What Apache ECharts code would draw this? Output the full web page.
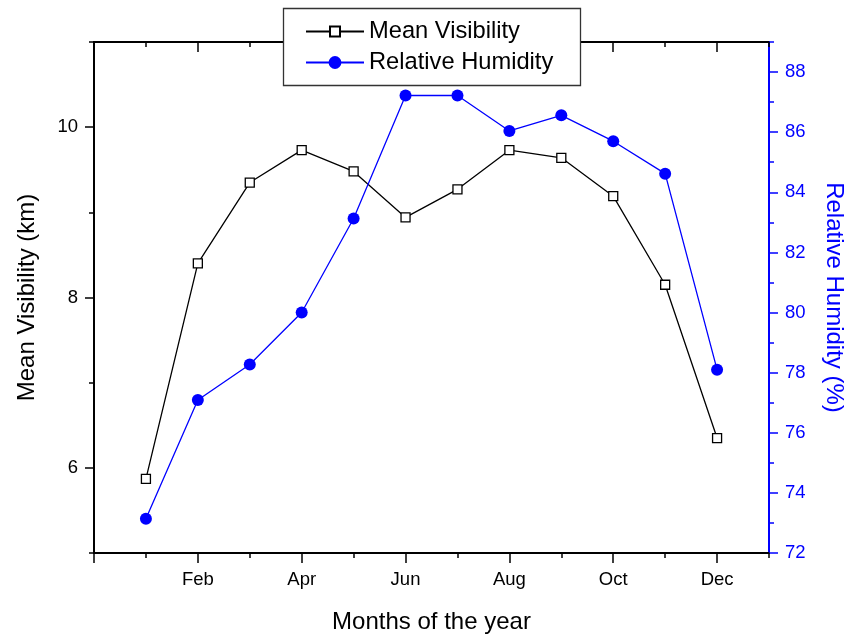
<!DOCTYPE html>
<html>
<head>
<meta charset="utf-8">
<script src="https://cdn.jsdelivr.net/npm/echarts@6/dist/echarts.min.js"></script>
<style>
  html, body { margin: 0; padding: 0; background: #fff; }
  #chart { width: 849px; height: 637px; }
</style>
</head>
<body>
<div id="chart"></div>
<script>
const monthNames = ['Jan', 'Feb', 'Mar', 'Apr', 'May', 'Jun', 'Jul', 'Aug', 'Sep', 'Oct', 'Nov', 'Dec'];
const visibility = [5.87, 8.40, 9.35, 9.73, 9.48, 8.94, 9.27, 9.73, 9.64, 9.19, 8.15, 6.35];
const humidity = [73.14, 77.09, 78.27, 80.0, 83.13, 87.22, 87.22, 86.04, 86.56, 85.70, 84.62, 78.10];
const xMajor = [0, 2, 4, 6, 8, 10, 12];
const xMinor = [1, 3, 5, 7, 9, 11, 13];
const visMajor = [6, 8, 10];
const visMinor = [5, 7, 9, 11];
const rhMajor = [72, 74, 76, 78, 80, 82, 84, 86, 88];
const rhMinor = [73, 75, 77, 79, 81, 83, 85, 87, 89];

const font = "'Liberation Sans', Arial, sans-serif";
const blue = '#0000ff';

function xAx(pos, values, len, inside, withLabels) {
  return {
    type: 'value', position: pos, min: 0, max: 13, interval: 1,
    axisLine: {show: true, onZero: false, lineStyle: {color: '#000', width: 2}},
    axisTick: {show: true, inside: inside, length: len, customValues: values, lineStyle: {color: '#000', width: 1.5}},
    axisLabel: withLabels ? {
      show: true, customValues: xMajor.filter(v => v >= 1 && v <= 12), margin: 17,
      color: '#000', fontSize: 18.5, fontFamily: font,
      formatter: v => monthNames[v - 1]
    } : {show: false},
    splitLine: {show: false}
  };
}

function yAx(pos, min, max, values, len, color, withLabels) {
  return {
    type: 'value', position: pos, min: min, max: max, interval: 1,
    axisLine: {show: true, onZero: false, lineStyle: {color: color, width: 2}},
    axisTick: {show: true, length: len, customValues: values, lineStyle: {color: color, width: 1.5}},
    axisLabel: withLabels ? {show: true, customValues: values, margin: 16, color: color, fontSize: 18.5, fontFamily: font} : {show: false},
    splitLine: {show: false}
  };
}

const bottomX = xAx('bottom', xMajor, 10, false, true);
bottomX.name = 'Months of the year';
bottomX.nameLocation = 'middle';
bottomX.nameGap = 57;
bottomX.nameTextStyle = {color: '#000', fontSize: 24, fontFamily: font};

const leftY = yAx('left', 5, 11, visMajor, 9, '#000', true);
leftY.name = 'Mean Visibility (km)';
leftY.nameLocation = 'middle';
leftY.nameGap = 55;
leftY.nameTextStyle = {color: '#000', fontSize: 24, fontFamily: font};

const rightY = yAx('right', 72, 89, rhMajor, 9, blue, true);
rightY.name = 'Relative Humidity (%)';
rightY.nameLocation = 'middle';
rightY.nameRotate = -90;
rightY.nameGap = 53;
rightY.nameTextStyle = {color: blue, fontSize: 24, fontFamily: font};

const chart = echarts.init(document.getElementById('chart'));
chart.setOption({
  animation: false,
  backgroundColor: '#fff',
  grid: {left: 94, right: 80, top: 42, bottom: 84, containLabel: false, outerBoundsMode: 'none'},
  xAxis: [
    bottomX,
    xAx('bottom', xMinor, 5, false, false),
    xAx('top', xMajor, 10, true, false),
    xAx('top', xMinor, 5, true, false)
  ],
  yAxis: [
    leftY,
    yAx('left', 5, 11, visMinor, 5, '#000', false),
    rightY,
    yAx('right', 72, 89, rhMinor, 5, blue, false)
  ],
  graphic: [{
    type: 'rect', z: 3,
    shape: {x: 283.5, y: 8.5, width: 297, height: 77},
    style: {fill: '#fff', stroke: '#333', lineWidth: 1.3}
  }],
  legend: [
    {
      data: ['Mean Visibility'], left: 305, top: 19.5, padding: 0, z: 5,
      itemWidth: 58, itemHeight: 12.5,
      textStyle: {color: '#000', fontSize: 23.7, fontFamily: font}
    },
    {
      data: ['Relative Humidity'], left: 305, top: 50.5, padding: 0, z: 5,
      itemWidth: 58, itemHeight: 16,
      textStyle: {color: '#000', fontSize: 23.7, fontFamily: font}
    }
  ],
  series: [
    {
      name: 'Mean Visibility', type: 'line', xAxisIndex: 0, yAxisIndex: 0,
      data: visibility.map((v, i) => [i + 1, v]),
      symbol: 'rect', symbolSize: 9,
      lineStyle: {color: '#000', width: 1.3},
      itemStyle: {color: '#fff', borderColor: '#000', borderWidth: 1.3}
    },
    {
      name: 'Relative Humidity', type: 'line', xAxisIndex: 0, yAxisIndex: 2,
      data: humidity.map((v, i) => [i + 1, v]),
      symbol: 'circle', symbolSize: 12,
      lineStyle: {color: blue, width: 1.3},
      itemStyle: {color: blue, borderWidth: 0}
    }
  ]
});
</script>
</body>
</html>
